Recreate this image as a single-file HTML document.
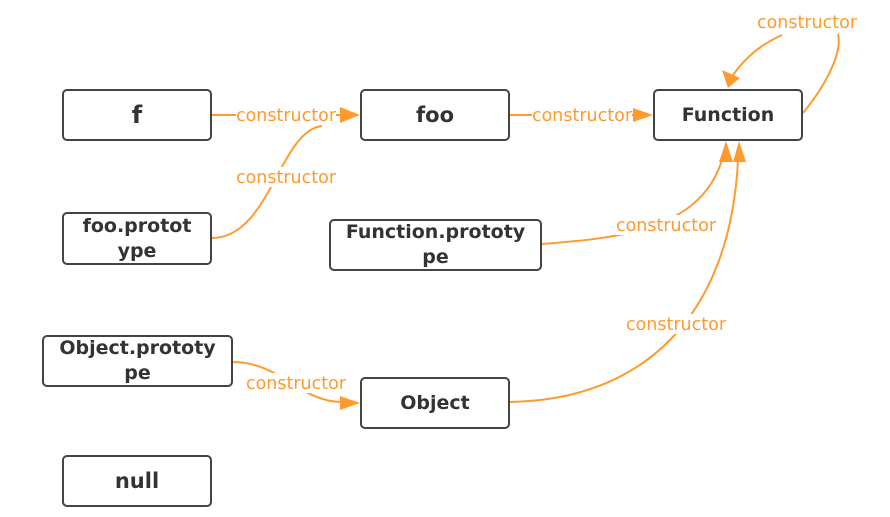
<!DOCTYPE html>
<html><head><style>
body{margin:0;background:#fff;width:890px;height:517px;overflow:hidden;font-family:"DejaVu Sans","Liberation Sans",sans-serif}
.b{position:absolute;box-sizing:border-box;border:2px solid #444;border-radius:5px;background:#fff;display:flex;align-items:center;justify-content:center;text-align:center;font-weight:bold;color:#333;font-size:19px;line-height:25px}
svg{position:absolute;left:0;top:0}
</style></head><body>
<svg width="890" height="517">
<g fill="none" stroke="#ff9a2e" stroke-width="2">
<path d="M212 115 L342 115"/>
<path d="M212 238 C270 238 280 130 322 126"/>
<path d="M510 115 L635 115"/>
<path d="M803 113 C830 80 842 50 838 34"/>
<path d="M782 35 C760 45 745 58 733 75"/>
<path d="M542 244 C620 238 700 230 722 160"/>
<path d="M510 402 C640 400 730 320 738 160"/>
<path d="M233 362 C280 362 300 402 342 402"/>
</g>
<g fill="#ff9a2e">
<polygon points="360,115 340,107 340,123"/>
<polygon points="653,115 633,108 633,122"/>
<polygon points="728,88 722,70 740,78"/>
<polygon points="726,141 719,162 733,162"/>
<polygon points="739,141 733,162 746,162"/>
<polygon points="360,403 340,396 340,410"/>
</g>
<g font-size="17.5" fill="#ff9a2e" text-anchor="middle" font-family="DejaVu Sans, Liberation Sans, sans-serif">
<rect x="236" y="105" width="100" height="20" fill="#fff"/>
<text x="286" y="121">constructor</text>
<rect x="236" y="167" width="100" height="20" fill="#fff"/>
<text x="286" y="183">constructor</text>
<rect x="532" y="105" width="100" height="20" fill="#fff"/>
<text x="582" y="121">constructor</text>
<text x="807" y="28">constructor</text>
<rect x="616" y="215" width="100" height="20" fill="#fff"/>
<text x="666" y="231">constructor</text>
<rect x="626" y="314" width="100" height="20" fill="#fff"/>
<text x="676" y="330">constructor</text>
<rect x="246" y="373" width="100" height="20" fill="#fff"/>
<text x="296" y="389">constructor</text>
</g>
</svg>
<div class="b" style="left:62px;top:89px;width:150px;height:52px;font-size:24px">f</div>
<div class="b" style="left:360px;top:89px;width:150px;height:52px;font-size:21px">foo</div>
<div class="b" style="left:653px;top:89px;width:150px;height:52px">Function</div>
<div class="b" style="left:62px;top:212px;width:150px;height:53px">foo.protot<br>ype</div>
<div class="b" style="left:329px;top:219px;width:213px;height:52px">Function.prototy<br>pe</div>
<div class="b" style="left:42px;top:335px;width:191px;height:52px">Object.prototy<br>pe</div>
<div class="b" style="left:360px;top:377px;width:150px;height:52px">Object</div>
<div class="b" style="left:62px;top:455px;width:150px;height:52px;font-size:21px">null</div>
</body></html>
